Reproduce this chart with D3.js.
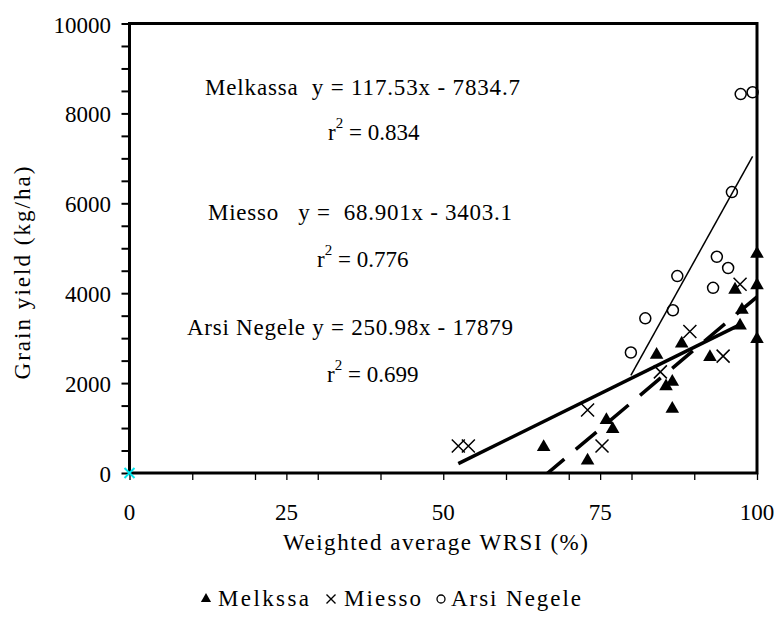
<!DOCTYPE html>
<html>
<head>
<meta charset="utf-8">
<script src="https://cdn.jsdelivr.net/npm/d3@7/dist/d3.min.js"></script>
<style>
  html, body { margin: 0; padding: 0; background: #fff; }
  svg { display: block; }
</style>
</head>
<body>
<div id="chart"></div>
<script>
// ---------- data ----------
const seriesNames = ["Melkassa", "Miesso", "Arsi Negele"];
const legendLabels = ["Melkssa", "Miesso", "Arsi Negele"];

const melkassaX = [66, 73, 76, 77, 84, 85.5, 86.5, 86.5, 88, 92.5, 96.5, 97.3, 97.6, 100, 100, 100];
const melkassaY = [600, 300, 1200, 1000, 2650, 1950, 2050, 1450, 2900, 2600, 4100, 3300, 3650, 3000, 4200, 4900];

const miessoX = [52.4, 54, 73, 75.3, 84.6, 89.3, 94.6, 97.3];
const miessoY = [600, 600, 1400, 600, 2250, 3150, 2600, 4200];

const arsiX = [79.9, 82.2, 86.6, 87.3, 93, 93.6, 95.4, 96, 97.4, 99.3];
const arsiY = [2680, 3440, 3620, 4380, 4120, 4810, 4560, 6250, 8430, 8470];

const dummyX = [0];
const dummyY = [0];

const trendSlopes = [117.53, 68.901, 250.98];
const trendIntercepts = [-7834.7, -3403.1, -17879];

const equationLabels = [
  "Melkassa\u00A0\u00A0y = 117.53x - 7834.7",
  "Miesso\u00A0\u00A0\u00A0y =\u00A0\u00A068.901x - 3403.1",
  "Arsi Negele y = 250.98x - 17879"
];
const r2Labels = ["0.834", "0.776", "0.699"];

const xTickLabels = [0, 25, 50, 75, 100];
const xTickMarks = [0, 10, 20, 25, 30, 40, 50, 60, 70, 75, 80, 90, 100];
const yTickLabels = [0, 2000, 4000, 6000, 8000, 10000];
const yTickMarks = d3.range(0, 10001, 500);

const xTitle = "Weighted average WRSI (%)";
const yTitle = "Grain yield (kg/ha)";

// ---------- layout ----------
const FONT = "Liberation Serif";
const W = 775, H = 627;
const svg = d3.select("#chart").append("svg").attr("width", W).attr("height", H)
  .attr("font-family", FONT);
svg.append("rect").attr("width", W).attr("height", H).attr("fill", "#fff");

const x = d3.scaleLinear().domain([0, 100]).range([129.5, 757]);
const y = d3.scaleLinear().domain([0, 10000]).range([473, 23.5]);

function txt(sel) {
  return sel.attr("font-family", FONT).attr("fill", "#000");
}

// clip
svg.append("defs").append("clipPath").attr("id", "plotclip")
  .append("rect").attr("x", x(0)).attr("y", y(10000))
  .attr("width", x(100) - x(0)).attr("height", y(0) - y(10000));

// y ticks (outward, left)
const yAxis = d3.axisLeft(y).tickValues(yTickMarks).tickSize(8).tickFormat("");
const gy = svg.append("g").attr("transform", `translate(${x(0)},0)`).call(yAxis);
gy.select(".domain").remove();
gy.selectAll(".tick line").attr("stroke", "#000").attr("stroke-width", 2);

txt(svg.append("g").selectAll("text").data(yTickLabels).join("text"))
  .attr("x", 111).attr("y", d => y(d) + 9)
  .attr("text-anchor", "end").attr("font-size", 23)
  .text(d => d);

// x ticks (outward, down)
const xAxis = d3.axisBottom(x).tickValues(xTickMarks).tickSize(7).tickFormat("");
const gx = svg.append("g").attr("transform", `translate(0,${y(0)})`).call(xAxis);
gx.select(".domain").remove();
gx.selectAll(".tick line").attr("stroke", "#000").attr("stroke-width", 1.3);

txt(svg.append("g").selectAll("text").data(xTickLabels).join("text"))
  .attr("x", d => x(d)).attr("y", 520)
  .attr("text-anchor", "middle").attr("font-size", 23)
  .text(d => d);

// axis titles
txt(svg.append("text")).attr("x", 283).attr("y", 550).attr("font-size", 23)
  .attr("textLength", 305).attr("lengthAdjust", "spacing").text(xTitle);
txt(svg.append("text")).attr("transform", "translate(30,273) rotate(-90)")
  .attr("text-anchor", "middle").attr("font-size", 23)
  .attr("textLength", 213).attr("lengthAdjust", "spacing").text(yTitle);

// plot frame
svg.append("rect").attr("x", x(0)).attr("y", y(10000))
  .attr("width", x(100) - x(0)).attr("height", y(0) - y(10000))
  .attr("fill", "none").attr("stroke", "#000").attr("stroke-width", 3);

// ---------- trend lines ----------
const seriesX = [melkassaX, miessoX, arsiX];
const lineStyles = [
  { w: 3.5, dash: "27,15" },
  { w: 3.5, dash: null },
  { w: 1.5, dash: null }
];
const lineGen = d3.line().x(d => x(d[0])).y(d => y(d[1]));
const plot = svg.append("g").attr("clip-path", "url(#plotclip)");
seriesX.forEach((xs, i) => {
  const [x0, x1] = d3.extent(xs);
  const pts = [x0, x1].map(v => [v, trendSlopes[i] * v + trendIntercepts[i]]);
  plot.append("path").datum(pts)
    .attr("d", lineGen).attr("fill", "none").attr("stroke", "#000")
    .attr("stroke-width", lineStyles[i].w)
    .attr("stroke-dasharray", lineStyles[i].dash);
});

// ---------- markers ----------
const pts = svg.append("g");
const tri = d3.symbol().type(d3.symbolTriangle).size(80);
pts.selectAll(".tri").data(d3.zip(melkassaX, melkassaY)).join("path")
  .attr("class", "tri").attr("d", tri)
  .attr("transform", d => `translate(${x(d[0])},${y(d[1]) + 1})`)
  .attr("fill", "#000");

function drawX(g, data, s, color, w) {
  g.selectAll(null).data(data).join("path")
    .attr("d", d => {
      const cx = x(d[0]), cy = y(d[1]);
      return `M${cx - s},${cy - s}L${cx + s},${cy + s}M${cx - s},${cy + s}L${cx + s},${cy - s}`;
    })
    .attr("stroke", color).attr("stroke-width", w).attr("fill", "none");
}
drawX(pts.append("g"), d3.zip(miessoX, miessoY), 6.5, "#000", 1.5);

pts.append("g").selectAll("circle").data(d3.zip(arsiX, arsiY)).join("circle")
  .attr("cx", d => x(d[0])).attr("cy", d => y(d[1])).attr("r", 5.5)
  .attr("fill", "none").attr("stroke", "#000").attr("stroke-width", 1.5);

drawX(pts.append("g"), d3.zip(dummyX, dummyY), 5, "#00e5ee", 2);

// ---------- equation annotations ----------
const eqPos = [
  { x: 205, y: 95, w: 315, rx: 328, ry: 140 },
  { x: 208, y: 220, w: 304, rx: 317, ry: 267 },
  { x: 187, y: 335, w: 326, rx: 327, ry: 382 }
];
const ann = svg.append("g");
equationLabels.forEach((t, i) => {
  const p = eqPos[i];
  txt(ann.append("text")).attr("x", p.x).attr("y", p.y).attr("font-size", 23)
    .attr("textLength", p.w).attr("lengthAdjust", "spacing").text(t);
  const r = txt(ann.append("text")).attr("x", p.rx).attr("y", p.ry).attr("font-size", 23);
  r.append("tspan").text("r");
  r.append("tspan").attr("font-size", 15).attr("dy", -12).text("2");
  r.append("tspan").attr("dy", 12).text(" = " + r2Labels[i]);
});

// ---------- legend ----------
const leg = svg.append("g");
const legY = 606;
const legItems = [
  { sx: 206, tx: 218, tw: 91 },
  { sx: 331, tx: 344, tw: 77 },
  { sx: 441, tx: 451, tw: 130 }
];
leg.append("path").attr("d", d3.symbol().type(d3.symbolTriangle).size(45))
  .attr("transform", `translate(${legItems[0].sx},${legY - 7})`).attr("fill", "#000");
drawX(leg.append("g").attr("transform", `translate(${legItems[1].sx - x(0)},${legY - 7 - y(0)})`), [[0, 0]], 4.5, "#000", 1.4);
leg.append("circle").attr("cx", legItems[2].sx).attr("cy", legY - 7).attr("r", 4)
  .attr("fill", "none").attr("stroke", "#000").attr("stroke-width", 1.3);
legendLabels.forEach((t, i) => {
  txt(leg.append("text")).attr("x", legItems[i].tx).attr("y", legY).attr("font-size", 23)
    .attr("textLength", legItems[i].tw).attr("lengthAdjust", "spacing").text(t);
});
</script>
</body>
</html>
